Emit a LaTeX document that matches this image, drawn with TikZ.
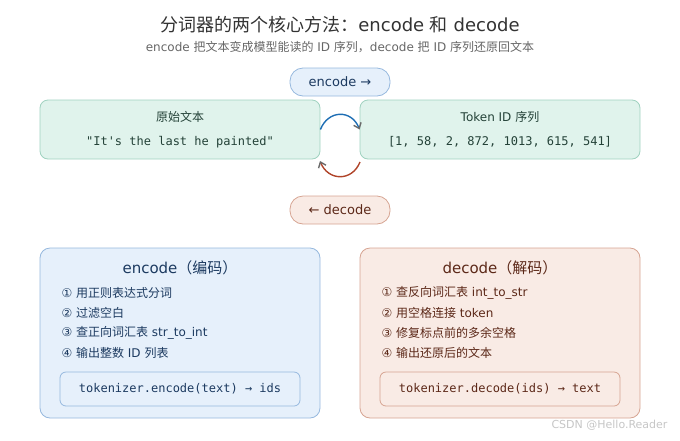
\documentclass[tikz,border=0pt]{standalone}
\usepackage{fontspec}
\setmainfont{DejaVu Sans}
\setmonofont{DejaVu Sans Mono}
\newfontfamily\cjk{Noto Sans CJK SC}
\newcommand{\zh}[1]{{\cjk #1}}
\newcommand{\fsz}[1]{\fontsize{#1}{#1}\selectfont}
\usetikzlibrary{arrows.meta}
\definecolor{titlegray}{RGB}{51, 51, 51}
\definecolor{subgray}{RGB}{102, 102, 102}
\definecolor{mintfill}{RGB}{224, 243, 236}
\definecolor{mintline}{RGB}{160, 210, 192}
\definecolor{minttext}{RGB}{36, 66, 56}
\definecolor{bluefill}{RGB}{230, 240, 251}
\definecolor{blueline}{RGB}{150, 184, 222}
\definecolor{bluetext}{RGB}{28, 58, 96}
\definecolor{redfill}{RGB}{249, 235, 229}
\definecolor{redline}{RGB}{214, 164, 146}
\definecolor{redtext}{RGB}{92, 40, 24}
\definecolor{encblue}{RGB}{30, 110, 180}
\definecolor{decred}{RGB}{176, 68, 42}
\definecolor{tipgray}{RGB}{105, 105, 105}

\begin{document}
\begin{tikzpicture}[x=1pt, y=-1pt, >=Latex,
    databox/.style={draw=mintline, fill=mintfill, line width=0.8pt, rounded corners=8pt,
      minimum width=280pt, minimum height=59pt},
    pill/.style={line width=0.8pt, rounded corners=13pt, minimum width=100pt,
      minimum height=28pt, font=\fsz{13}},
    panel/.style={line width=0.8pt, rounded corners=10pt, minimum width=280pt, minimum height=170pt},
    codebox/.style={line width=0.8pt, rounded corners=6pt, minimum width=240pt,
      minimum height=34pt, font=\ttfamily\fsz{12}},
    item/.style={anchor=west, font=\fsz{12}},
    flow/.style={line width=1.4pt, -{Straight Barb[color=tipgray, length=5pt, width=8pt]}}]
    \useasboundingbox (0,0) rectangle (680,440);
    \node[font=\fsz{18}, text=titlegray] (title) at (340,25) {\zh{分词器的两个核心方法：}encode \zh{和} decode};
    \node[font=\fsz{12}, text=subgray] (subtitle) at (340,47) {encode \zh{把文本变成模型能读的} ID \zh{序列，}decode \zh{把} ID \zh{序列还原回文本}};

    \node[pill, draw=blueline, fill=bluefill, text=bluetext] (encpill) at (340,82) {encode →};
    \node[pill, draw=redline, fill=redfill, text=redtext] (decpill) at (340,210) {← decode};

    \node[databox] (src) at (180,129.5) {};
    \node[font=\fsz{12}, text=minttext] (srctitle) at (180,117) {\zh{原始文本}};
    \node[font=\ttfamily\fsz{12}, text=minttext] (srctext) at (180,142) {"It's the last he painted"};
    \node[databox] (ids) at (500,129.5) {};
    \node[font=\fsz{12}, text=minttext] (idstitle) at (500,117) {Token ID \zh{序列}};
    \node[font=\ttfamily\fsz{12}, text=minttext] (idstext) at (500,142) {[1, 58, 2, 872, 1013, 615, 541]};

    \draw[flow, encblue] (src.east) .. controls +(8,-20) and +(-8,-20) .. (ids.west);
    \coordinate (decstart) at (360,162);
    \coordinate (decend) at (320,161);
    \draw[flow, decred] (decstart) .. controls +(-8,20) and +(8,20) .. (decend);

    \node[panel, draw=blueline, fill=bluefill] (encpanel) at (180,333) {};
    \node[font=\fsz{15}, text=bluetext] (enctitle) at (180,268) {encode\zh{（编码）}};
    \foreach \t [count=\k] in {{① \zh{用正则表达式分词}}, {② \zh{过滤空白}},
        {③ \zh{查正向词汇表} str\_to\_int}, {④ \zh{输出整数} ID \zh{列表}}}
      \node[item, text=bluetext] (enc\k) at (58,273+20*\k) {\t};
    \node[codebox, draw=blueline, text=bluetext] (enccode) at (180,389) {tokenizer.encode(text) → ids};

    \node[panel, draw=redline, fill=redfill] (decpanel) at (500,333) {};
    \node[font=\fsz{15}, text=redtext] (dectitle) at (500,268) {decode\zh{（解码）}};
    \foreach \t [count=\k] in {{① \zh{查反向词汇表} int\_to\_str}, {② \zh{用空格连接} token},
        {③ \zh{修复标点前的多余空格}}, {④ \zh{输出还原后的文本}}}
      \node[item, text=redtext] (dec\k) at (378,273+20*\k) {\t};
    \node[codebox, draw=redline, text=redtext] (deccode) at (500,389) {tokenizer.decode(ids) → text};

    \node[anchor=east, font=\fsz{11}, text=gray!45] (mark) at (671,425) {CSDN @Hello.Reader};
  \end{tikzpicture}
\end{document}
